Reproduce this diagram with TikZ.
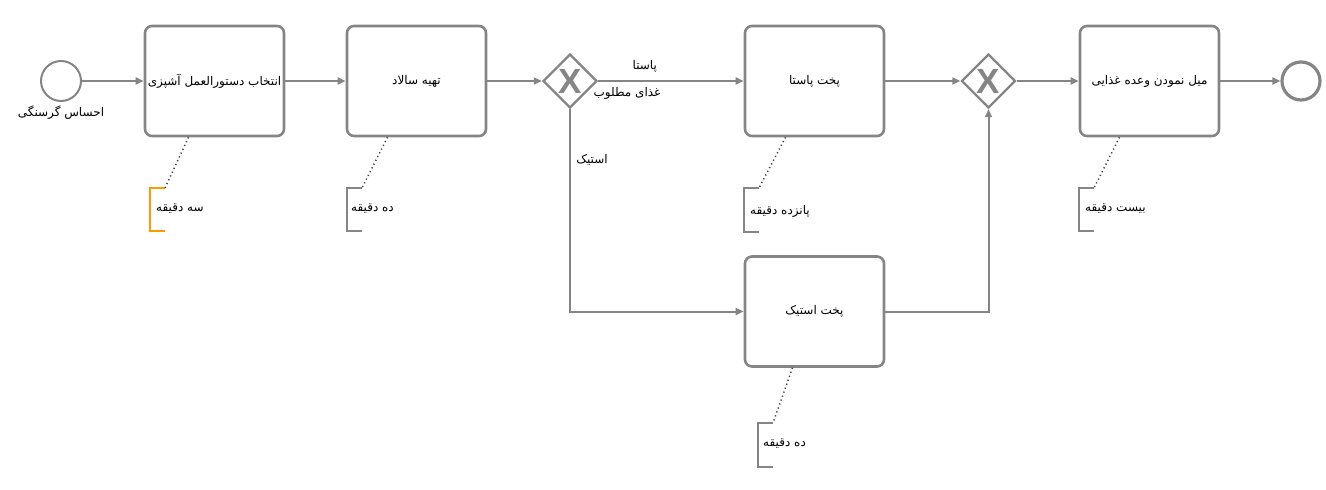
\documentclass[tikz,border=0pt]{standalone}
\usepackage{fontspec}
\usetikzlibrary{arrows.meta,shapes.geometric}
\TeXXeTstate=1
\newfontfamily\fa[Script=Arabic]{DejaVu Sans}
\newfontfamily\xfont{Liberation Sans}
\newcommand{\pers}[1]{{\fa\beginR #1\endR}}
\definecolor{bpgray}{HTML}{858585}
\definecolor{bporange}{HTML}{FF9900}
\begin{document}
\begin{tikzpicture}[x=1pt,y=-1pt,
  txt/.style={font=\fontsize{12}{14}\selectfont, inner sep=0pt, text=black},
  task/.style={draw=bpgray, line width=2.6pt, rounded corners=7pt, minimum width=139pt, minimum height=110pt, inner sep=0pt, fill=white, txt},
  gate/.style={draw=bpgray, line width=2.4pt, diamond, aspect=1, minimum width=54pt, minimum height=54pt, inner sep=0pt},
  xmark/.style={font=\xfont\bfseries\fontsize{35}{35}\selectfont, text=bpgray, inner sep=0pt},
  startev/.style={draw=bpgray, line width=2pt, circle, minimum size=40pt, inner sep=0pt},
  endev/.style={draw=bpgray, line width=3.2pt, circle, minimum size=38pt, inner sep=0pt},
  flow/.style={draw=bpgray, line width=2pt, -{Triangle[length=8pt,width=7pt]}},
  assoc/.style={draw=black!75, line width=1.5pt, dash pattern=on 1.2pt off 3pt},
  annot/.style={draw=bpgray, line width=2.4pt},
  annotsel/.style={draw=bporange, line width=2.4pt},
]
\useasboundingbox (0,0) rectangle (1326,490);

% events
\node[startev] (start) at (61,81) {};
\node[txt] (startlbl) at (61,113) {\pers{احساس گرسنگی}};
\node[endev] (end) at (1301,81) {};

% tasks
\node[task] (t1) at (214.5,81) {\pers{انتخاب دستورالعمل آشپزی}};
\node[task] (t2) at (416.5,81) {\pers{تهیه سالاد}};
\node[task] (pasta) at (814.5,81) {\pers{پخت پاستا}};
\node[task] (steak) at (814.5,311.5) {\pers{پخت استیک}};
\node[task] (eat) at (1149.5,81) {\pers{میل نمودن وعده غذایی}};

% gateways
\node[gate] (g1) at (570,81) {};
\node[xmark] (x1) at (570,81) {X};
\node[gate] (g2) at (988.5,81) {};
\node[xmark] (x2) at (988.5,81) {X};
\node[txt] (g1lbl) at (627,93) {\pers{غذای مطلوب}};

% flows
\draw[flow] (start) -- (t1);
\draw[flow] (t1) -- (t2);
\draw[flow] (t2) -- (g1);
\draw[flow] (g1) -- node[txt, above=8pt, pos=0.32] (lpasta) {\pers{پاستا}} (pasta);
\draw[flow] (g1.south) |- (steak.west);
\node[txt] (lsteak) at (592,160) {\pers{استیک}};
\draw[flow] (pasta) -- (g2);
\draw[flow] (steak.east) -| (g2.south);
\draw[flow] (g2) -- (eat);
\draw[flow] (eat) -- (end);

% annotations
\coordinate (a1) at (165,188);
\draw[annotsel] (a1) -- (150,188) -- (150,231) -- (165,231);
\node[txt, anchor=west] (n1) at (156,209) {\pers{سه دقیقه}};
\draw[assoc] ([xshift=-26pt]t1.south) -- (a1);

\coordinate (a2) at (362,188);
\draw[annot] (a2) -- (347,188) -- (347,231) -- (362,231);
\node[txt, anchor=west] (n2) at (351,209) {\pers{ده دقیقه}};
\draw[assoc] ([xshift=-29pt]t2.south) -- (a2);

\coordinate (a3) at (759,188);
\draw[annot] (a3) -- (744,188) -- (744,232) -- (759,232);
\node[txt, anchor=west] (n3) at (750,211) {\pers{پانزده دقیقه}};
\draw[assoc] ([xshift=-29pt]pasta.south) -- (a3);

\coordinate (a4) at (1094,188);
\draw[annot] (a4) -- (1079,188) -- (1079,231) -- (1094,231);
\node[txt, anchor=west] (n4) at (1085,209) {\pers{بیست دقیقه}};
\draw[assoc] ([xshift=-30pt]eat.south) -- (a4);

\coordinate (a5) at (773,423);
\draw[annot] (a5) -- (758,423) -- (758,467) -- (773,467);
\node[txt, anchor=west] (n5) at (763,444) {\pers{ده دقیقه}};
\draw[assoc] ([xshift=-22pt]steak.south) -- (a5);
\end{tikzpicture}
\end{document}
